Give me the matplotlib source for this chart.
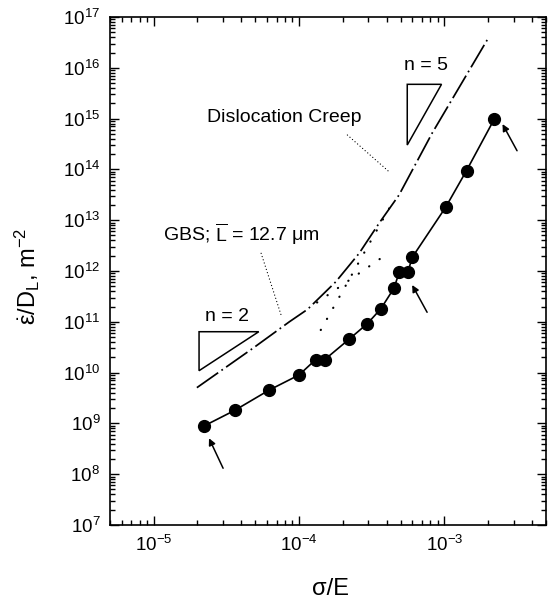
import matplotlib
matplotlib.use('Agg')
import matplotlib.pyplot as plt
from matplotlib.patches import Polygon
from matplotlib.ticker import LogLocator, NullFormatter
import numpy as np

plt.rcParams['font.family'] = ['Liberation Sans', 'DejaVu Sans']
plt.rcParams['mathtext.fontset'] = 'custom'
plt.rcParams['mathtext.rm'] = 'Liberation Sans'
plt.rcParams['mathtext.it'] = 'Liberation Sans:italic'
plt.rcParams['mathtext.bf'] = 'Liberation Sans:bold'
plt.rcParams['axes.unicode_minus'] = False

# experimental points (sigma/E, strain rate / D_L)
stress = [2.2e-5, 3.6e-5, 6.2e-5, 1.0e-4, 1.3e-4, 1.5e-4, 2.2e-4, 2.95e-4,
          3.65e-4, 4.5e-4, 4.9e-4, 5.6e-4, 6.0e-4, 1.02e-3, 1.42e-3, 2.2e-3]
rate = [8.8e8, 1.8e9, 4.5e9, 9e9, 1.8e10, 1.8e10, 4.5e10, 9.2e10,
        1.8e11, 4.6e11, 9.7e11, 9.4e11, 1.85e12, 1.8e13, 9.5e13, 9.7e14]

# predicted GBS + dislocation creep curve
pred_stress = [1.98e-5, 4.8e-5, 8.57e-5, 1.144e-4, 1.79e-4, 2.59e-4,
               3.55e-4, 4.87e-4, 8.24e-4, 2.02e-3]
pred_rate = [5.05e9, 3.0e10, 1.0e11, 1.76e11, 6.15e11, 2.23e12,
             8.7e12, 3.13e13, 5.2e14, 4.0e16]

# the two separate mechanisms, dotted where they fall below the sum
disl_stress = [1.41e-4, 4.16e-4]
disl_rate = [6.9e10, 1.7e13]
gbs_stress = [1.33e-4, 3.94e-4]
gbs_rate = [2.4e11, 2.07e12]

fig = plt.figure(figsize=(5.49, 6.01), dpi=100)
ax = fig.add_axes([110/549, 1-525/601, 436/549, 508/601])
ax.set_xscale('log')
ax.set_yscale('log')
ax.set_xlim(5e-6, 5e-3)
ax.set_ylim(1e7, 1e17)

ax.plot(stress, rate, '-', color='black', lw=1.2, marker='o', ms=8.5)
ax.plot(pred_stress, pred_rate, color='black', lw=1.25,
        dashes=(15, 2.3, 1.0, 2.3))
ax.plot(disl_stress, disl_rate, color='black', lw=1.6,
        dashes=(0.1, 5.6), dash_capstyle='round')
ax.plot(gbs_stress, gbs_rate, color='black', lw=1.6,
        dashes=(0.1, 5.6), dash_capstyle='round')

# slope triangles
ax.add_patch(Polygon([(5.55e-4, 4.73e15), (9.55e-4, 4.73e15), (5.55e-4, 3.02e14)],
                     closed=True, fill=False, ec='black', lw=1.1))
ax.add_patch(Polygon([(2.05e-5, 6.38e10), (5.28e-5, 6.38e10), (2.05e-5, 1.09e10)],
                     closed=True, fill=False, ec='black', lw=1.1))

ax.text(7.43e-4, 1.13e16, 'n = 5', fontsize=14, ha='center', va='center')
ax.text(3.2e-5, 1.3e11, 'n = 2', fontsize=14, ha='center', va='center')
ax.text(7.93e-5, 1.06e15, 'Dislocation Creep', fontsize=14, ha='center', va='center')
ax.text(4.0e-5, 5.27e12, r'GBS; $\overline{\mathregular{L}}$ = 12.7 μm', fontsize=14,
        ha='center', va='center')

# leader lines
ax.plot([2.15e-4, 4.16e-4], [4.75e14, 9.0e13], color='black', lw=0.9,
        dashes=(0.1, 2.6), dash_capstyle='round')
ax.plot([5.48e-5, 7.52e-5], [2.23e12, 1.36e11], color='black', lw=0.9,
        dashes=(0.1, 2.6), dash_capstyle='round')

# arrows
arrow = dict(arrowstyle='-|>', color='black', lw=1.1, mutation_scale=10, shrinkA=0, shrinkB=0)
ax.annotate('', xy=(2.4e-5, 5.1e8), xytext=(3.0e-5, 1.31e8), arrowprops=arrow)
ax.annotate('', xy=(6.0e-4, 5.3e11), xytext=(7.6e-4, 1.54e11), arrowprops=arrow)
ax.annotate('', xy=(2.51e-3, 7.8e14), xytext=(3.16e-3, 2.33e14), arrowprops=arrow)

ax.xaxis.set_major_locator(LogLocator(base=10, numticks=20))
ax.xaxis.set_minor_locator(LogLocator(base=10, subs=np.arange(2, 10), numticks=100))
ax.yaxis.set_major_locator(LogLocator(base=10, numticks=20))
ax.yaxis.set_minor_locator(LogLocator(base=10, subs=np.arange(2, 10), numticks=100))
ax.xaxis.set_minor_formatter(NullFormatter())
ax.yaxis.set_minor_formatter(NullFormatter())

ax.tick_params(which='both', direction='in', top=True, right=True, width=1.0)
ax.tick_params(which='major', length=6.5, labelsize=13.5)
ax.tick_params(which='minor', length=3.5)
ax.tick_params(axis='y', pad=7)
ax.tick_params(axis='x', pad=7)
for s in ax.spines.values():
    s.set_linewidth(1.2)

ax.set_xlabel('σ/E', fontsize=17, va='center')
ax.xaxis.set_label_coords(0.5046, -0.126)
ax.set_ylabel(r'$\dot{\mathregular{ε}}$/D$_{\mathregular{L}}$, m$^{\mathregular{-2}}$',
              fontsize=17, va='center')
ax.yaxis.set_label_coords(-0.19, 0.49)

fig.savefig('out.png', dpi=100)
